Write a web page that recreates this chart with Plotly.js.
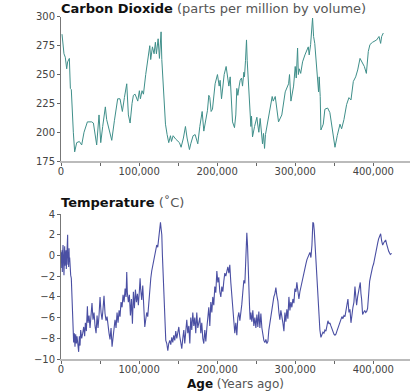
<!DOCTYPE html>
<html><head><meta charset="utf-8">
<script src="https://cdn.plot.ly/plotly-3.0.1.min.js"></script>
<style>html,body{margin:0;padding:0;background:#fff}#c{width:410px;height:392px}</style>
</head><body><div id="c"></div>
<script>
// CO2 (ppmv) vs age (thousand years ago)
const co2AgeKyr = [1.3,3.8,5.5,7.3,8.5,10.7,12.0,13.2,15.8,17.5,20.1,23.5,26.5,29.5,33.8,39.3,41.5,45.7,48.7,50.9,53.4,56.8,58.5,62.0,65.0,68.4,72.6,75.6,78.6,81.2,84.2,86.3,88.5,91.0,92.7,94.9,98.3,100.4,101.7,103.8,105.6,108.5,111.1,113.7,114.9,117.1,119.2,120.9,122.2,124.4,126.1,128.2,129.1,130.3,131.6,133.8,135.9,138.0,140.2,141.5,143.6,147.0,151.7,153.8,156.8,159.4,161.5,164.5,166.2,169.2,171.8,175.2,177.8,179.5,180.8,182.9,185.5,187.6,189.3,190.6,192.3,194.0,197.4,200.4,202.6,203.8,205.6,207.3,209.0,211.5,213.2,215.0,216.7,217.9,219.7,222.2,223.9,225.2,226.5,228.2,229.5,231.2,232.5,234.2,235.0,236.3,237.6,238.5,240.2,241.5,243.2,244.0,245.3,247.9,249.1,250.9,251.7,253.4,255.1,256.4,258.1,259.4,260.7,261.9,263.2,264.9,266.2,268.8,270.5,271.8,274.4,278.6,282.8,287.2,291.5,292.7,294.5,297.9,300.0,301.3,303.0,304.0,305.1,307.0,309.4,312.4,314.5,316.7,317.9,319.7,322.2,323.5,325.0,327.3,328.6,329.9,330.7,332.0,332.9,335.9,338.0,341.5,344.4,347.4,350.9,353.8,357.3,359.4,362.4,365.8,368.8,371.4,374.4,377.4,380.0,383.0,386.0,388.5,391.1,393.6,395.7,399.1,404.3,407.3,409.4,410.7,412.8];
const co2Ppmv = [285,268,265,255,261,264,238,237,200,183,191,192,189,200,209,209,208,189,215,191,205,222,211,200,193,210,229,229,218,230,242,215,208,225,232,233,227,236,229,236,233,250,262,275,263,274,268,278,268,281,264,287,263,250,230,207,198,191,197,192,197,194,191,187,195,205,195,185,190,197,198,190,205,212,218,201,210,219,232,230,218,220,242,250,240,245,229,240,250,257,250,240,248,233,209,204,215,238,232,240,245,247,240,252,248,262,280,262,240,218,205,214,196,205,208,213,208,200,212,202,190,199,186,198,203,210,215,225,231,227,231,209,215,235,242,250,227,240,257,247,273,250,255,251,261,267,270,274,267,276,299,283,277,253,240,235,248,231,202,207,220,221,217,204,187,197,207,203,211,224,230,228,244,248,254,264,260,257,251,270,276,278,280,283,277,283,286];

// Temperature anomaly (deg C) vs age (thousand years ago)
const tempAgeKyr = [0.0,0.4,0.9,1.3,1.7,2.1,2.6,3.0,3.4,3.8,4.3,4.7,5.1,5.6,6.0,6.4,6.8,7.3,7.7,8.1,8.5,8.9,9.4,9.8,10.3,10.7,11.1,11.5,12.4,13.2,13.7,14.1,14.5,15.4,16.2,17.1,17.9,18.8,19.7,20.5,21.4,22.6,23.5,24.4,25.2,26.5,27.8,29.1,30.3,31.2,32.5,33.8,34.6,35.9,37.2,38.5,39.7,41.0,42.3,43.6,44.9,46.2,47.4,48.7,50.0,51.3,52.6,53.8,55.1,56.4,57.7,59.0,60.3,61.5,62.8,64.1,65.4,66.7,67.9,69.2,70.5,71.8,73.1,74.4,75.6,76.9,78.2,79.5,80.8,82.1,83.3,84.2,85.0,86.3,87.6,88.9,90.2,91.5,92.7,94.0,95.3,96.6,97.9,99.1,100.4,101.3,102.1,103.4,104.7,106.0,107.3,108.5,109.8,111.1,112.4,113.7,115.0,116.2,117.5,118.8,120.1,121.4,122.6,123.9,125.2,126.5,127.4,128.2,129.1,129.9,130.8,131.6,132.5,133.3,134.2,135.5,136.8,138.0,139.3,140.6,141.9,143.2,144.4,145.7,147.0,148.3,149.6,150.9,152.1,153.4,154.7,156.0,157.3,158.5,159.8,161.1,162.4,163.7,165.0,166.2,167.5,168.8,170.1,171.4,172.6,173.9,175.2,176.5,177.8,179.1,180.3,181.6,182.9,184.2,185.5,186.8,188.0,189.3,190.6,191.9,193.2,194.4,195.7,197.0,198.3,199.6,200.9,202.1,203.4,204.7,206.0,207.3,208.5,209.8,211.1,212.4,213.7,215.0,216.2,217.5,218.8,220.1,221.4,222.6,223.9,225.2,226.5,227.8,229.1,230.3,231.6,232.9,234.2,235.5,236.8,238.0,238.9,239.7,240.6,241.5,242.3,243.2,244.4,245.7,247.0,248.3,249.6,250.9,252.1,253.4,254.7,256.0,257.3,258.5,259.8,261.1,262.4,263.7,265.0,266.2,267.5,268.8,270.1,271.4,272.6,273.9,275.2,276.5,277.8,279.1,280.3,281.6,282.9,284.2,285.5,286.8,288.0,289.3,290.6,291.9,293.2,294.4,295.7,297.0,298.3,299.6,300.9,302.1,303.4,304.7,306.0,307.3,308.5,309.8,311.1,312.4,313.7,315.0,316.2,317.5,318.8,320.1,321.4,322.6,323.5,324.4,325.2,326.1,326.9,327.8,329.1,330.3,331.6,332.9,334.2,335.5,336.8,338.0,339.3,340.6,341.9,343.2,344.4,345.7,347.0,348.3,349.6,350.9,352.1,353.4,354.7,356.0,357.3,358.5,359.8,361.1,362.4,363.7,365.0,366.2,367.5,368.8,370.1,371.4,372.6,373.9,375.2,376.5,377.4,378.6,379.9,381.2,382.5,383.3,384.2,385.0,386.3,387.6,388.9,390.2,391.5,392.7,394.0,395.3,396.6,397.9,399.1,400.4,401.7,403.0,404.3,405.6,406.8,408.1,409.4,410.7,412.0,413.2,414.5,415.8,417.1,418.4,419.7,421.8,423.5];
const tempC = [-0.5,0.3,-1.2,0.5,-1.6,0.2,1.0,-0.8,0.6,-1.9,-0.3,0.9,-1.0,0.4,-0.7,0.5,-1.3,0.2,-0.5,0.6,2.0,-0.9,0.3,-1.1,0.7,-0.6,-0.2,-1.0,-1.9,-2.2,-3.0,-4.1,-4.3,-6.0,-8.4,-7.5,-8.8,-7.6,-8.5,-7.8,-8.4,-9.3,-7.8,-8.7,-7.2,-8.0,-7.5,-6.9,-7.8,-6.5,-7.3,-4.9,-6.5,-5.8,-7.0,-5.5,-4.6,-6.2,-5.5,-6.8,-7.5,-5.8,-7.0,-5.8,-4.0,-5.5,-6.2,-5.2,-3.9,-5.6,-6.3,-5.9,-7.0,-7.5,-8.1,-7.0,-8.8,-7.8,-7.2,-6.2,-7.0,-5.5,-6.5,-5.3,-5.9,-4.5,-5.0,-3.8,-4.5,-3.2,-4.0,-1.6,-3.6,-4.5,-3.8,-5.8,-4.2,-6.6,-3.5,-5.1,-3.3,-4.5,-3.7,-4.8,-3.4,-2.2,-3.3,-4.3,-2.9,-4.7,-6.9,-6.2,-5.5,-5.9,-4.4,-3.5,-2.2,-1.5,-1.0,-0.6,-0.1,0.3,1.0,0.8,1.5,2.2,3.2,2.6,2.0,0.0,-2.0,-4.0,-6.0,-7.5,-8.2,-8.5,-9.2,-8.5,-8.2,-8.6,-7.9,-8.4,-7.7,-8.2,-7.3,-8.0,-7.5,-6.9,-7.8,-8.6,-9.0,-8.0,-7.2,-8.5,-7.5,-6.2,-7.5,-6.8,-8.5,-6.0,-7.2,-5.5,-6.8,-6.0,-7.5,-5.5,-7.0,-6.3,-6.0,-7.5,-6.5,-8.0,-8.5,-7.2,-8.3,-7.0,-6.3,-5.0,-6.8,-4.5,-5.5,-4.0,-4.8,-3.0,-3.6,-1.5,-2.6,-2.1,-3.5,-4.0,-3.0,-3.5,-2.5,-1.7,-2.0,-1.3,-1.1,-1.7,-0.9,-2.6,-4.0,-5.2,-6.2,-7.5,-6.5,-7.7,-6.0,-5.5,-6.3,-5.6,-4.7,-3.5,-2.4,-2.7,-0.5,2.2,1.0,-1.5,-3.5,-5.0,-6.2,-5.5,-6.4,-5.3,-6.8,-6.0,-7.0,-5.7,-6.9,-5.4,-7.0,-5.6,-7.0,-7.7,-8.2,-8.4,-8.1,-8.5,-8.3,-7.2,-6.5,-6.1,-5.3,-4.5,-4.0,-3.7,-3.1,-3.9,-4.4,-5.5,-6.2,-5.3,-5.8,-6.5,-7.3,-5.5,-6.4,-5.2,-6.1,-4.0,-5.3,-4.5,-5.0,-4.2,-4.6,-3.2,-3.5,-2.6,-3.4,-4.2,-3.5,-3.0,-2.6,-2.0,-1.6,-1.2,-0.8,-0.4,-0.2,0.0,0.3,-0.2,1.0,3.2,3.1,2.4,1.4,0.0,-1.5,-3.0,-4.5,-6.0,-7.2,-7.9,-7.7,-7.4,-7.5,-7.2,-7.3,-6.8,-6.3,-6.6,-6.5,-6.8,-7.1,-7.3,-7.6,-7.7,-7.6,-7.3,-7.0,-6.7,-6.6,-6.2,-5.9,-6.1,-5.8,-5.9,-5.3,-5.0,-4.2,-5.5,-5.2,-6.5,-5.5,-5.0,-4.5,-3.0,-3.8,-4.8,-4.0,-3.5,-3.0,-2.6,-3.7,-4.2,-5.7,-5.4,-5.3,-5.5,-5.4,-5.1,-3.5,-2.5,-2.0,-1.4,-1.1,-0.8,-0.2,0.4,0.8,1.2,1.6,1.8,2.1,1.4,1.0,1.2,1.4,1.5,1.1,0.6,0.4,0.1,0.2];

const xTickVals = [0,50000,100000,150000,200000,250000,300000,350000,400000];
const xTickText = ['0','','100,000','','200,000','','300,000','','400,000'];
const co2Ticks = [175,200,225,250,275,300];
const tempTicks = [-10,-8,-6,-4,-2,0,2,4];

const FONT = 'DejaVu Sans, sans-serif';
const kyr = a => a.map(v => v * 1000);

const traces = [
  {x: kyr(co2AgeKyr), y: co2Ppmv, type:'scatter', mode:'lines', xaxis:'x', yaxis:'y',
   line:{color:'#3f8f8a', width:1}, hoverinfo:'skip'},
  {x: kyr(tempAgeKyr), y: tempC, type:'scatter', mode:'lines', xaxis:'x2', yaxis:'y2',
   line:{color:'#4a4fa3', width:1.1}, hoverinfo:'skip'}
];

const xBase = {
  range:[0,447000], tickvals:xTickVals, ticktext:xTickText, ticks:'outside', ticklen:3,
  tickcolor:'#666', showline:true, linecolor:'#bbbbbb', linewidth:2, showgrid:false,
  zeroline:false, tickfont:{family:FONT, size:10, color:'#444'}, ticklabelstandoff:-3, fixedrange:true
};
const yBase = {
  ticks:'outside', ticklen:3, tickcolor:'#666', showline:true, linecolor:'#777', linewidth:1,
  showgrid:false, zeroline:false, tickfont:{family:FONT, size:10, color:'#444'}, fixedrange:true
};

const layout = {
  width:410, height:392, margin:{l:61, r:0, t:0, b:0},
  paper_bgcolor:'#fff', plot_bgcolor:'#fff', showlegend:false,
  xaxis: Object.assign({}, xBase, {anchor:'y', domain:[0,1]}),
  yaxis: Object.assign({}, yBase, {range:[175,300], tickvals:co2Ticks, domain:[0.589,0.957], anchor:'x'}),
  xaxis2: Object.assign({}, xBase, {anchor:'y2', domain:[0,1]}),
  yaxis2: Object.assign({}, yBase, {range:[-10,4], tickvals:tempTicks, domain:[0.084,0.454], anchor:'x2'}),
  annotations:[
    {xref:'paper', yref:'paper', x:-0.005, y:(392-8)/392, xanchor:'left', yanchor:'middle', showarrow:false,
     text:'<b>Carbon Dioxide</b> <span style="color:#555">(parts per million by volume)</span>',
     font:{family:FONT, size:13, color:'#111'}},
    {xref:'paper', yref:'paper', x:-0.005, y:(392-202)/392, xanchor:'left', yanchor:'middle', showarrow:false,
     text:'<b>Temperature</b> <span style="color:#555">(˚C)</span>',
     font:{family:FONT, size:13, color:'#111'}},
    {xref:'paper', yref:'paper', x:0.5, y:(392-384)/392, xanchor:'center', yanchor:'middle', showarrow:false,
     text:'<b>Age</b> <span style="color:#555">(Years ago)</span>',
     font:{family:FONT, size:12, color:'#111'}}
  ]
};
Plotly.newPlot('c', traces, layout, {staticPlot:true, displayModeBar:false});
</script></body></html>
